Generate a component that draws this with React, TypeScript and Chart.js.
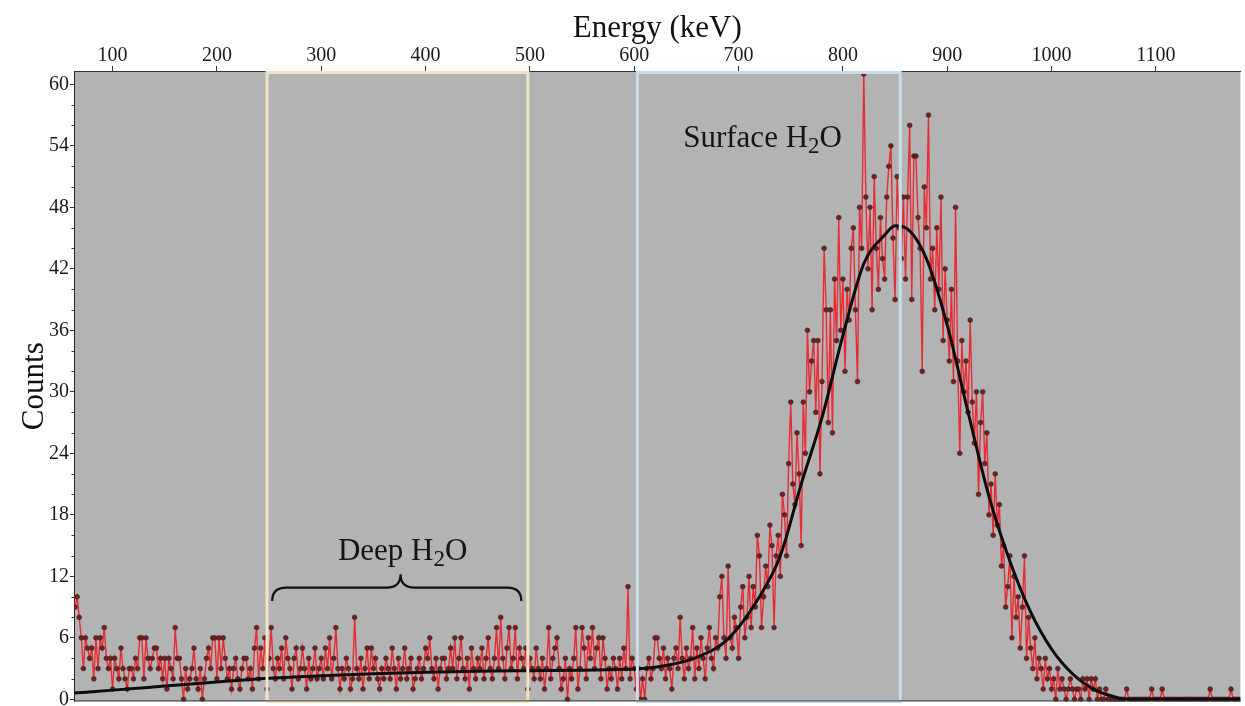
import React, { useEffect, useRef } from "react";
import { Chart, registerables } from "chart.js";

Chart.register(...registerables);

// ---------- data ----------
const CHANNEL_START = 62; // keV of first channel
const CHANNEL_STEP = 2; // keV per channel

const counts062to160 = [10,9,10,8,6,3,6,5,4,5,2,6,3,6,5,7,4,3,4,1,4,3,2,5,3,2,1,3,3,2,4,3,6,6,2,6,4,3,4,5,5,3,4,2,4,1,4,3,2,7];
const counts162to260 = [4,4,2,0,3,1,2,3,5,2,1,3,0,2,4,5,3,6,6,2,6,3,6,4,2,3,1,3,4,2,1,3,4,4,2,3,1,5,7,2,5,3,6,1,4,7,3,2,4,3];
const counts262to360 = [5,2,6,4,3,1,4,5,2,3,5,3,1,4,2,3,5,2,3,4,2,5,3,6,2,4,7,3,1,3,2,4,3,1,2,8,3,2,4,1,3,5,2,5,3,4,2,1,3,2];
const counts362to460 = [4,3,2,5,3,1,4,2,3,5,2,3,4,1,2,3,4,2,3,5,4,6,3,2,4,1,3,4,4,2,3,5,3,6,2,4,6,3,2,4,1,5,3,2,4,3,5,2,4,6];
const counts462to560 = [3,2,4,7,3,8,4,2,5,7,3,4,7,2,5,4,3,5,1,4,3,2,5,3,2,4,1,3,7,2,4,5,6,3,1,2,4,0,3,2,4,7,1,3,7,5,2,6,4,7];
const counts562to660 = [3,5,6,2,6,4,1,3,2,4,3,1,4,2,5,3,11,2,4,3,1,3,0,2,0,3,4,2,3,6,6,4,3,5,2,4,3,1,4,5,3,8,4,2,5,3,4,7,2,5];
const counts662to760 = [3,6,4,2,5,7,4,3,6,5,10,12,6,4,13,6,5,8,7,4,9,11,6,8,12,7,11,9,16,14,7,10,13,11,17,15,7,14,16,12,20,18,14,23,29,21,19,26,22,15];
const counts762to860 = [29,24,36,30,33,35,28,35,22,31,44,38,27,38,26,41,35,47,36,41,32,40,37,44,46,38,31,48,44,61,49,42,48,38,51,44,40,47,43,41,49,52,54,45,39,51,46,43,49,41];
const counts862to960 = [49,56,39,53,53,47,44,32,50,46,57,41,44,38,46,40,49,35,42,37,33,40,31,48,33,24,35,30,33,28,37,29,25,30,20,27,30,23,26,18,21,16,22,17,19,13,15,9,11,14];
const counts962to1060 = [6,12,8,10,5,9,14,4,8,5,3,6,2,4,3,1,4,2,3,1,2,0,3,1,2,1,0,1,2,1,0,1,1,0,2,1,2,0,2,1,2,0,1,0,0,1,0,0,0,0];
const counts1062to1180 = [
  0,0,0,0,0,1,0,0,0,0,
  0,0,0,0,0,0,0,1,0,0,
  0,0,1,0,0,0,0,0,0,0,
  0,0,0,0,0,0,0,0,0,0,
  0,0,0,0,0,1,0,0,0,0,
  0,0,0,0,0,1,0,0,0,0,
];

const countSegments = [
  counts062to160, counts162to260, counts262to360, counts362to460, counts462to560,
  counts562to660, counts662to760, counts762to860, counts862to960, counts962to1060, counts1062to1180,
];

// fitted curve (keV, counts)
const fitEnergy = [62,100,150,200,250,300,350,400,450,500,550,600,630,660,690,720,740,760,780,800,820,840,850,860,880,900,920,940,960,980,1000,1020,1040,1060,1070,1181];
const fitCounts = [0.6,0.9,1.3,1.7,2.05,2.3,2.5,2.65,2.75,2.8,2.85,2.95,3.3,4.1,5.9,10.0,14.0,21.0,27.5,35.5,42.5,45.3,46.2,46.0,43.0,36.5,28.0,19.8,13.5,8.5,4.9,2.5,1.0,0.25,0,0];

const xTickValues = [100,200,300,400,500,600,700,800,900,1000,1100];
const yTickValues = [0,6,12,18,24,30,36,42,48,54,60];
const yMinorValues = [2,4,8,10,14,16,20,22,26,28,32,34,38,40,44,46,50,52,56,58];

const deepWindow = [248, 498];
const surfaceWindow = [603, 855];

// ---------- layout / style ----------
const X_MIN = 63;
const X_MAX = 1181;
const Y_MIN = -0.2;
const Y_MAX = 61.3;
const SERIF = '"Liberation Serif", "Times New Roman", serif';
const PLOT_BG = "#b3b3b3";

const surfaceLabel = { main: "Surface H", sub: "2", tail: "O", x: 723, y: 53.9 };
const deepLabel = { main: "Deep H", sub: "2", tail: "O", x: 378, y: 13.55 };
const brace = { x0: 253, x1: 491.7, xm: 376, yArm: 10.9, yTip: 12.2, yEnd: 9.6 };

function drawSubLabel(ctx: CanvasRenderingContext2D, cx: number, baseY: number, lab: any, size: number) {
  const subSize = Math.round(size * 0.75);
  ctx.font = `${size}px ${SERIF}`;
  const w1 = ctx.measureText(lab.main).width;
  const w3 = ctx.measureText(lab.tail).width;
  ctx.font = `${subSize}px ${SERIF}`;
  const w2 = ctx.measureText(lab.sub).width;
  const start = cx - (w1 + w2 + w3) / 2;
  ctx.textBaseline = "alphabetic";
  ctx.textAlign = "left";
  ctx.fillStyle = "#151515";
  ctx.font = `${size}px ${SERIF}`;
  ctx.fillText(lab.main, start, baseY);
  ctx.font = `${subSize}px ${SERIF}`;
  ctx.fillText(lab.sub, start + w1, baseY + 6);
  ctx.font = `${size}px ${SERIF}`;
  ctx.fillText(lab.tail, start + w1 + w2, baseY);
}

export default function App() {
  const ref = useRef<HTMLCanvasElement>(null);

  useEffect(() => {
    const canvas = ref.current;
    if (!canvas) return;

    const counts = countSegments.flat();
    const dataPoints = counts.map((c, i) => ({ x: CHANNEL_START + CHANNEL_STEP * i, y: c }));
    const fitPoints = fitEnergy.map((e, i) => ({ x: e, y: fitCounts[i] }));

    const decor = {
      id: "decor",
      beforeDraw(chart: any) {
        const { ctx, chartArea: a } = chart;
        ctx.save();
        ctx.fillStyle = PLOT_BG;
        ctx.fillRect(a.left, a.top, a.right - a.left, a.bottom - a.top);
        ctx.restore();
      },
      afterDatasetsDraw(chart: any) {
        const { ctx, chartArea: a, scales } = chart;
        const xs = scales.x;
        const ys = scales.y;
        ctx.save();
        // windows
        const drawBox = (r: number[], color: string) => {
          const l = xs.getPixelForValue(r[0]);
          const rr = xs.getPixelForValue(r[1]);
          ctx.strokeStyle = color;
          ctx.lineWidth = 3;
          ctx.strokeRect(l, a.top + 1.5, rr - l, a.bottom - a.top - 1.5);
        };
        drawBox(deepWindow, "#efe5c4");
        drawBox(surfaceWindow, "#c8dcea");

        // bottom line
        ctx.strokeStyle = "#333";
        ctx.lineWidth = 1;
        ctx.beginPath();
        ctx.moveTo(a.left, a.bottom - 0.5);
        ctx.lineTo(a.right, a.bottom - 0.5);
        ctx.stroke();

        // brace
        const X0 = xs.getPixelForValue(brace.x0);
        const X1 = xs.getPixelForValue(brace.x1);
        const XM = xs.getPixelForValue(brace.xm);
        const YA = ys.getPixelForValue(brace.yArm);
        const YT = ys.getPixelForValue(brace.yTip);
        const YE = ys.getPixelForValue(brace.yEnd);
        const r = 14;
        ctx.strokeStyle = "#111";
        ctx.lineWidth = 2.2;
        ctx.beginPath();
        ctx.moveTo(X0, YE);
        ctx.quadraticCurveTo(X0, YA, X0 + r, YA);
        ctx.lineTo(XM - r, YA);
        ctx.quadraticCurveTo(XM, YA, XM, YT);
        ctx.quadraticCurveTo(XM, YA, XM + r, YA);
        ctx.lineTo(X1 - r, YA);
        ctx.quadraticCurveTo(X1, YA, X1, YE);
        ctx.stroke();

        // labels
        drawSubLabel(ctx, xs.getPixelForValue(surfaceLabel.x), ys.getPixelForValue(surfaceLabel.y), surfaceLabel, 31);
        drawSubLabel(ctx, xs.getPixelForValue(deepLabel.x), ys.getPixelForValue(deepLabel.y), deepLabel, 31);

        // minor ticks on y axis
        ctx.strokeStyle = "#333";
        ctx.lineWidth = 1;
        ctx.beginPath();
        yMinorValues.forEach((v) => {
          const py = Math.round(ys.getPixelForValue(v)) + 0.5;
          ctx.moveTo(a.left - 2.5, py);
          ctx.lineTo(a.left, py);
        });
        ctx.stroke();
        ctx.restore();
      },
    };

    const chart = new Chart(canvas, {
      type: "line",
      data: {
        datasets: [
          {
            label: "fit",
            data: fitPoints,
            borderColor: "#0d0d0d",
            borderWidth: 3,
            pointRadius: 0,
            cubicInterpolationMode: "monotone",
            order: 0,
          },
          {
            label: "counts",
            data: dataPoints,
            borderColor: "rgba(236,30,38,0.9)",
            borderWidth: 1.4,
            pointRadius: 2.4,
            pointBackgroundColor: "#6a2424",
            pointBorderColor: "#4a1818",
            pointBorderWidth: 0.6,
            tension: 0,
            order: 1,
          },
        ],
      } as any,
      options: {
        responsive: false,
        animation: false,
        devicePixelRatio: 1,
        events: [],
        layout: { padding: { left: 0, right: 0, top: 0, bottom: 1 } },
        plugins: { legend: { display: false }, tooltip: { enabled: false } },
        scales: {
          x: {
            type: "linear",
            position: "top",
            min: X_MIN,
            max: X_MAX,
            afterBuildTicks: (s: any) => {
              s.ticks = xTickValues.map((v) => ({ value: v }));
            },
            afterFit: (s: any) => {
              s.height = 71;
              s.paddingLeft = 0;
              s.paddingRight = 0;
            },
            grid: { drawOnChartArea: false, drawTicks: true, tickLength: 5, color: "#333" },
            border: { display: true, color: "#333", width: 1 },
            ticks: {
              font: { family: SERIF, size: 20, lineHeight: 1 },
              color: "#1a1a1a",
              padding: 0,
              maxRotation: 0,
              autoSkip: false,
              callback: (v: any) => String(v),
            },
            title: {
              display: true,
              text: "Energy (keV)",
              font: { family: SERIF, size: 31 },
              color: "#111",
              padding: { top: 10, bottom: 0 },
            },
          },
          y: {
            type: "linear",
            position: "left",
            min: Y_MIN,
            max: Y_MAX,
            afterBuildTicks: (s: any) => {
              s.ticks = yTickValues.map((v) => ({ value: v }));
            },
            afterFit: (s: any) => {
              s.width = 74;
              s.paddingTop = 0;
              s.paddingBottom = 0;
            },
            grid: { drawOnChartArea: false, drawTicks: true, tickLength: 4, color: "#333" },
            border: { display: true, color: "#222", width: 1 },
            ticks: {
              font: { family: SERIF, size: 20, lineHeight: 1 },
              color: "#1a1a1a",
              padding: 1,
              autoSkip: false,
              callback: (v: any) => String(v),
            },
            title: {
              display: true,
              text: "Counts",
              font: { family: SERIF, size: 31 },
              color: "#111",
              padding: { top: 16, bottom: 0 },
            },
          },
        },
      } as any,
      plugins: [decor],
    });

    return () => chart.destroy();
  }, []);

  return (
    <div style={{ position: "fixed", left: 0, top: 0, width: 1245, height: 706, background: "#fff" }}>
      <canvas ref={ref} width={1245} height={706} style={{ display: "block", width: 1245, height: 706 }} />
    </div>
  );
}
